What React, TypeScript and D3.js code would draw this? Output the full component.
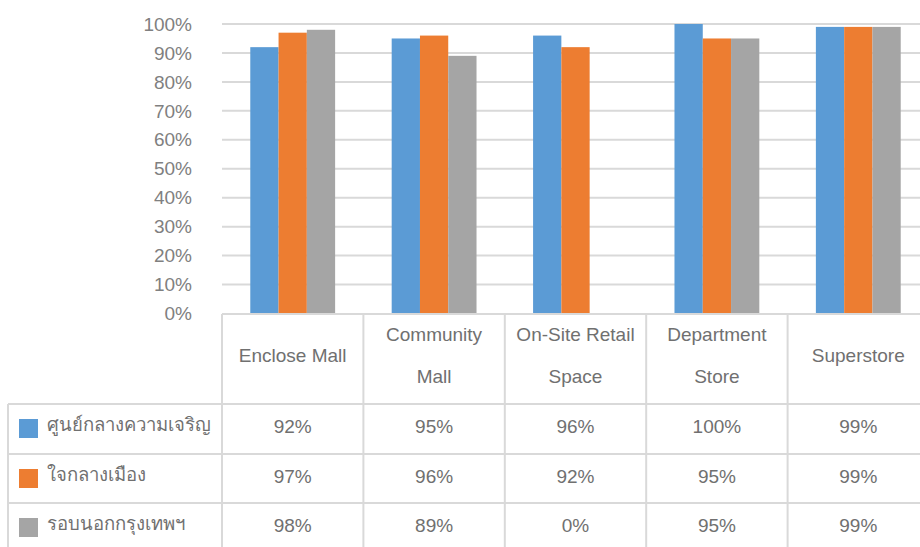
import React, { useEffect, useRef } from "react";
import * as d3 from "d3";

const categories = [
  ["Enclose Mall"],
  ["Community", "Mall"],
  ["On-Site Retail", "Space"],
  ["Department", "Store"],
  ["Superstore"],
];
const seriesNames = ["ศูนย์กลางความเจริญ", "ใจกลางเมือง", "รอบนอกกรุงเทพฯ"];
const seriesColors = ["#5B9BD5", "#ED7D31", "#A5A5A5"];
const centerValues = [92, 95, 96, 100, 99];
const downtownValues = [97, 96, 92, 95, 99];
const suburbValues = [98, 89, 0, 95, 99];
const yTicks = [0, 10, 20, 30, 40, 50, 60, 70, 80, 90, 100];

const App = () => {
  const svgRef = useRef<SVGSVGElement | null>(null);
  const w = 920;
  const h = 547;
  const font = "'Liberation Sans', Arial, 'Noto Sans', 'DejaVu Sans', sans-serif";

  useEffect(() => {
    d3.select(svgRef.current).selectAll("*").remove();
    const svg = d3.select(svgRef.current).attr("viewBox", `0 0 ${w} ${h}`);

    const series = [centerValues, downtownValues, suburbValues];
    const plotLeft = 222;
    const plotRight = 929;
    const tableTop = 314;
    const rowTops = [404, 454, 503];
    const rowH = 50;

    const xScale = d3
      .scaleBand<number>()
      .domain(d3.range(categories.length))
      .range([plotLeft, plotRight])
      .padding(0);

    const xInner = d3
      .scaleBand<number>()
      .domain(d3.range(series.length))
      .range([0, xScale.bandwidth()])
      .paddingInner(0)
      .paddingOuter(1);

    const yScale = d3.scaleLinear().domain([0, 100]).range([tableTop - 0.5, 24]);

    // gridlines
    svg
      .append("g")
      .selectAll("line")
      .data(yTicks.filter((t) => t > 0))
      .enter()
      .append("line")
      .attr("x1", plotLeft)
      .attr("x2", w)
      .attr("y1", (d) => yScale(d))
      .attr("y2", (d) => yScale(d))
      .attr("stroke", "#d9d9d9")
      .attr("stroke-width", 2);

    // y labels
    svg
      .append("g")
      .selectAll("text")
      .data(yTicks)
      .enter()
      .append("text")
      .attr("x", 192)
      .attr("y", (d) => yScale(d))
      .attr("dy", "0.35em")
      .attr("text-anchor", "end")
      .style("font-family", font)
      .style("font-size", "19px")
      .style("fill", "#808080")
      .text((d) => `${d}%`);

    // bars
    series.forEach((vals, si) => {
      svg
        .append("g")
        .selectAll("rect")
        .data(vals)
        .enter()
        .append("rect")
        .attr("x", (d, i) => xScale(i)! + xInner(si)!)
        .attr("width", xInner.bandwidth())
        .attr("y", (d) => yScale(d))
        .attr("height", (d) => yScale(0) - yScale(d))
        .attr("fill", seriesColors[si]);
    });

    // table lines
    const grid = svg.append("g").attr("stroke", "#d9d9d9").attr("stroke-width", 2);
    grid.append("line").attr("x1", plotLeft).attr("x2", w).attr("y1", tableTop).attr("y2", tableTop);
    rowTops.forEach((y) => {
      grid.append("line").attr("x1", 8).attr("x2", w).attr("y1", y).attr("y2", y);
    });
    grid.append("line").attr("x1", 8).attr("x2", 8).attr("y1", rowTops[0]).attr("y2", h);
    d3.range(categories.length).forEach((i) => {
      grid
        .append("line")
        .attr("x1", xScale(i)!)
        .attr("x2", xScale(i)!)
        .attr("y1", tableTop)
        .attr("y2", h);
    });

    // category headers
    categories.forEach((lines, i) => {
      const cx = xScale(i)! + xScale.bandwidth() / 2;
      const lineGap = 41.5;
      const startY = 355.5 - ((lines.length - 1) * lineGap) / 2;
      lines.forEach((ln, j) => {
        svg
          .append("text")
          .attr("x", cx)
          .attr("y", startY + j * lineGap)
          .attr("dy", "0.35em")
          .attr("text-anchor", "middle")
          .style("font-family", font)
          .style("font-size", "19px")
          .style("fill", "#707070")
          .text(ln);
      });
    });

    // legend rows and values
    series.forEach((vals, si) => {
      const cy = rowTops[si] + rowH / 2 - 4;
      svg
        .append("rect")
        .attr("x", 19)
        .attr("y", rowTops[si] + 15)
        .attr("width", 19)
        .attr("height", 19)
        .attr("fill", seriesColors[si]);
      svg
        .append("text")
        .attr("x", 47)
        .attr("y", cy)
        .attr("dy", "0.35em")
        .style("font-family", font)
        .style("font-size", "18.5px")
        .style("fill", "#707070")
        .text(seriesNames[si]);
      vals.forEach((v, i) => {
        svg
          .append("text")
          .attr("x", xScale(i)! + xScale.bandwidth() / 2)
          .attr("y", rowTops[si] + rowH / 2 - 3)
          .attr("dy", "0.35em")
          .attr("text-anchor", "middle")
          .style("font-family", font)
          .style("font-size", "19px")
          .style("fill", "#707070")
          .text(`${v}%`);
      });
    });
  }, []);

  return (
    <svg
      ref={svgRef}
      width={w}
      height={h}
      style={{ position: "absolute", left: 0, top: 0, background: "#fff" }}
    ></svg>
  );
};

export default App;
